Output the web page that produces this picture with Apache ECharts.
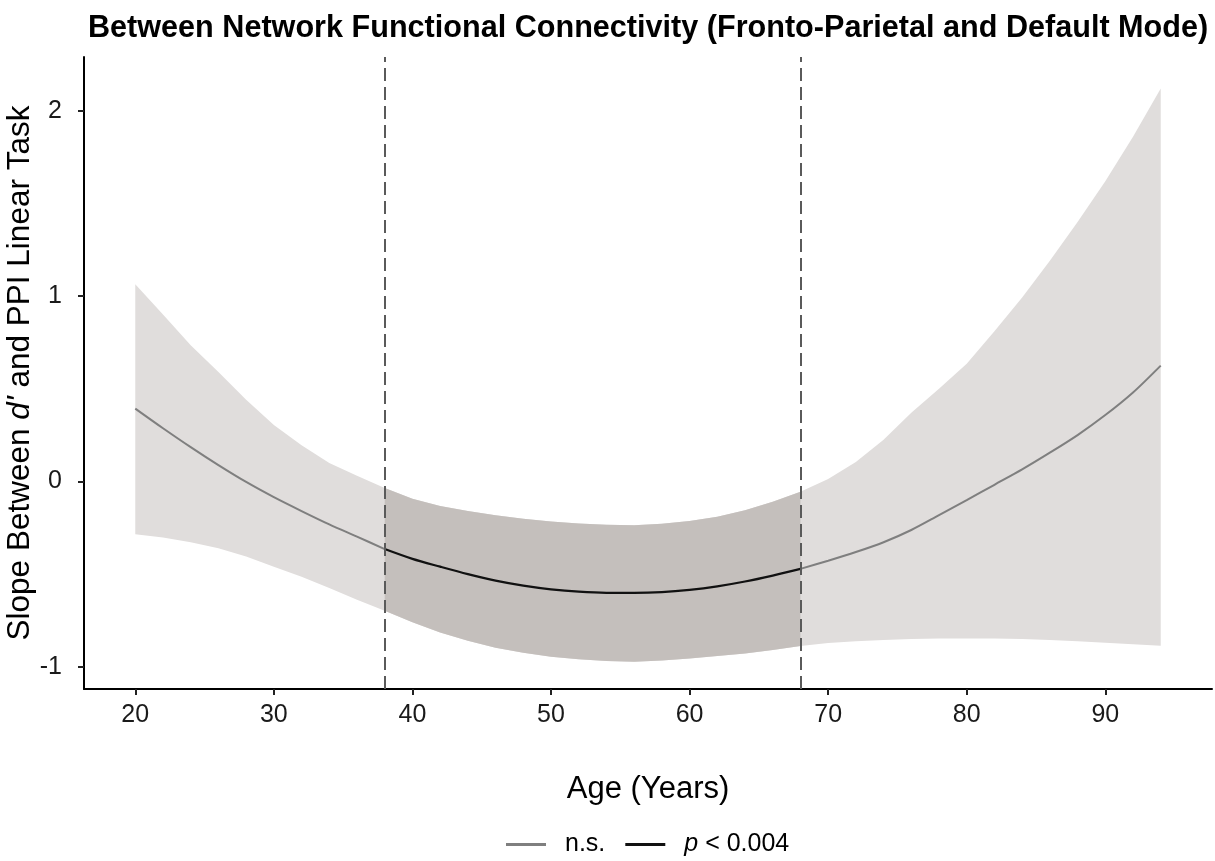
<!DOCTYPE html>
<html>
<head>
<meta charset="utf-8">
<script src="https://cdn.jsdelivr.net/npm/echarts@6/dist/echarts.min.js"></script>
<style>
html,body{margin:0;padding:0;background:#fff;}
#chart{width:1215px;height:861px;}
</style>
</head>
<body>
<div id="chart"></div>
<script>
// ---- data ----
const ages = [20,22,24,26,28,30,32,34,36,38,40,42,44,46,48,50,52,54,56,58,60,62,64,66,68,70,72,74,76,78,80,82,84,86,88,90,92,94];
const ciUpper = [1.064,0.90,0.735,0.59,0.44,0.305,0.195,0.10,0.03,-0.036,-0.093,-0.132,-0.160,-0.183,-0.201,-0.216,-0.227,-0.234,-0.236,-0.229,-0.214,-0.190,-0.155,-0.110,-0.056,0.013,0.105,0.225,0.37,0.50,0.635,0.81,0.993,1.19,1.40,1.62,1.86,2.12];
const ciLower = [-0.285,-0.303,-0.328,-0.36,-0.405,-0.46,-0.515,-0.575,-0.638,-0.698,-0.760,-0.815,-0.860,-0.897,-0.925,-0.946,-0.960,-0.969,-0.973,-0.966,-0.955,-0.942,-0.928,-0.910,-0.888,-0.872,-0.862,-0.855,-0.850,-0.848,-0.847,-0.848,-0.850,-0.855,-0.862,-0.870,-0.878,-0.887];
const slope = [0.393,0.287,0.185,0.088,-0.003,-0.085,-0.16,-0.232,-0.298,-0.365,-0.418,-0.46,-0.50,-0.535,-0.562,-0.582,-0.595,-0.601,-0.601,-0.597,-0.585,-0.566,-0.540,-0.508,-0.472,-0.428,-0.381,-0.328,-0.262,-0.182,-0.101,-0.018,0.065,0.155,0.25,0.358,0.48,0.625];
const sigStart = 38, sigEnd = 68;   // region of significance (dashed lines)
const xTicks = [20,30,40,50,60,70,80,90];
const yTicks = [-1,0,1,2];
const legendNames = ['n.s.', 'p < 0.004'];

const FONT = 'Liberation Sans, Arial, Helvetica, sans-serif';
const LIGHT = '#e0dddc', DARK = '#c4bfbc', GREY = '#7f7f7f', BLACK = '#111111';

function pairs(arr, lo, hi){
  const out = [];
  for (let i = 0; i < ages.length; i++){
    if (ages[i] >= lo && ages[i] <= hi) out.push([ages[i], arr[i]]);
  }
  return out;
}
function bandSeries(lo, hi, color){
  const up = pairs(ciUpper, lo, hi), dn = pairs(ciLower, lo, hi);
  return {
    type: 'custom',
    silent: true,
    data: [[up[0][0], up[0][1]]],
    encode: {x: 0, y: 1},
    renderItem: function(params, api){
      const pts = [];
      up.forEach(p => pts.push(api.coord(p)));
      for (let i = dn.length - 1; i >= 0; i--) pts.push(api.coord(dn[i]));
      return {type: 'polygon', shape: {points: pts}, style: {fill: color, stroke: null}};
    },
    z: 1
  };
}

const chart = echarts.init(document.getElementById('chart'), null, {renderer: 'canvas'});
const option = {
  animation: false,
  backgroundColor: '#ffffff',
  title: {
    text: 'Between Network Functional Connectivity (Fronto-Parietal and Default Mode)',
    left: 83, top: 8,
    textStyle: {fontFamily: FONT, fontWeight: 'bold', fontSize: 30.6, color: '#000'}
  },
  legend: {
    left: 501, top: 827,
    itemWidth: 40, itemHeight: 3, itemGap: 20,
    data: [
      {name: legendNames[0], icon: 'rect', itemStyle: {color: GREY}},
      {name: legendNames[1], icon: 'rect', itemStyle: {color: BLACK}}
    ],
    formatter: function(n){ return n === legendNames[1] ? '{i|p}{n| < 0.004}' : '{n|' + n + '}'; },
    textStyle: {
      fontFamily: FONT, fontSize: 25, color: '#000', padding: [0,0,0,14],
      rich: {
        i: {fontFamily: FONT, fontSize: 25, fontStyle: 'italic', color: '#000'},
        n: {fontFamily: FONT, fontSize: 25, color: '#000'}
      }
    }
  },
  grid: {left: 84, right: 3, top: 57, bottom: 172, containLabel: false, outerBoundsMode: 'none'},
  xAxis: {
    type: 'value', min: 16.3, max: 97.7,
    name: 'Age (Years)', nameLocation: 'middle', nameGap: 85, nameMoveOverlap: false,
    nameTextStyle: {fontFamily: FONT, fontSize: 31, color: '#000'},
    axisLine: {show: true, onZero: false, lineStyle: {color: '#000', width: 2}},
    axisTick: {show: true, length: 6, customValues: xTicks, lineStyle: {color: '#222', width: 2}},
    axisLabel: {customValues: xTicks, margin: 14, fontFamily: FONT, fontSize: 25, color: '#1a1a1a'},
    splitLine: {show: false}
  },
  yAxis: {
    type: 'value', min: -1.12, max: 2.29,
    name: "Slope Between {i|d'} and PPI Linear Task", nameLocation: 'middle', nameGap: 48, nameRotate: 90,
    nameMoveOverlap: false,
    nameTextStyle: {fontFamily: FONT, fontSize: 31.5, color: '#000',
      rich: {i: {fontFamily: FONT, fontSize: 31.5, fontStyle: 'italic', color: '#000'}}},
    axisLine: {show: true, onZero: false, lineStyle: {color: '#000', width: 2}},
    axisTick: {show: true, length: 6, customValues: yTicks, lineStyle: {color: '#222', width: 2}},
    axisLabel: {customValues: yTicks, margin: 22, fontFamily: FONT, fontSize: 25, color: '#1a1a1a'},
    splitLine: {show: false}
  },
  series: [
    bandSeries(20, 94, LIGHT),
    bandSeries(sigStart, sigEnd, DARK),
    {
      name: legendNames[0], type: 'line', data: pairs(slope, 20, sigStart),
      showSymbol: false, smooth: 0.3, lineStyle: {color: GREY, width: 2}, itemStyle: {color: GREY}, z: 3
    },
    {
      name: legendNames[0], type: 'line', data: pairs(slope, sigEnd, 94),
      showSymbol: false, smooth: 0.3, lineStyle: {color: GREY, width: 2}, itemStyle: {color: GREY}, z: 3
    },
    {
      name: legendNames[1], type: 'line', data: pairs(slope, sigStart, sigEnd),
      showSymbol: false, smooth: 0.3, lineStyle: {color: BLACK, width: 2.2}, itemStyle: {color: BLACK}, z: 4,
      markLine: {
        silent: true, symbol: ['none','none'], label: {show: false},
        lineStyle: {color: '#5a5a5a', width: 2, type: [13, 6]},
        data: [{xAxis: sigStart}, {xAxis: sigEnd}]
      }
    }
  ]
};
chart.setOption(option);
</script>
</body>
</html>
